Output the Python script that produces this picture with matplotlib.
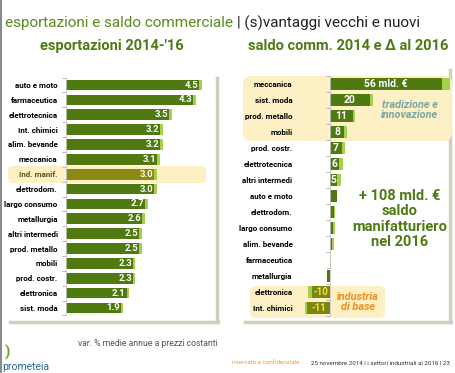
import matplotlib.pyplot as plt
from matplotlib.patches import FancyBboxPatch
from matplotlib.transforms import Affine2D
import numpy as np

W, H = 456, 373

export_sectors = ["auto e moto", "farmaceutica", "elettrotecnica", "Int. chimici",
                  "alim. bevande", "meccanica", "Ind. manif.", "elettrodom.",
                  "largo consumo", "metallurgia", "altri intermedi", "prod. metallo",
                  "mobili", "prod. costr.", "elettronica", "sist. moda"]
export_growth = [4.5, 4.3, 3.5, 3.2, 3.2, 3.1, 3.0, 3.0, 2.7, 2.6, 2.5, 2.5, 2.3, 2.3, 2.1, 1.9]

saldo_sectors = ["meccanica", "sist. moda", "prod. metallo", "mobili", "prod. costr.",
                 "elettrotecnica", "altri intermedi", "auto e moto", "elettrodom.",
                 "largo consumo", "alim. bevande", "farmaceutica", "metallurgia",
                 "elettronica", "Int. chimici"]
saldo_2014 = [56, 20, 11.3, 7.2, 5.8, 4.7, 3.7, 3.3, 2.0, 1.7, 0.8, 0.0, -1.7, -9.0, -11.5]
saldo_2016 = [60, 21.7, 12.5, 8.3, 7.5, 6.3, 5.3, 3.3, 2.7, 2.3, 2.0, 0.3, -1.7, -11.0, -12.5]
saldo_labels = ["56 mld. €", "20", "11", "8", "7", "6", "5", "", "", "", "", "", "", "-10", "-11"]

GREEN = "#4f7a12"
OLIVE = "#8a8a14"
LIGHT = "#a6cf4c"
TITLE_GREEN = "#5a8a1c"
YELLOW = "#fdf0c4"

plt.rcParams["font.family"] = ["Roboto", "DejaVu Sans"]

fig = plt.figure(figsize=(W / 100, H / 100), dpi=100)
px = Affine2D().scale(1 / W, -1 / H).translate(0, 1) + fig.transFigure


def add_ax(x0, x1, y0, y1):
    return fig.add_axes([x0 / W, 1 - y1 / H, (x1 - x0) / W, (y1 - y0) / H])


def rbox(x0, y0, x1, y1, r=6):
    fig.patches.append(FancyBboxPatch((x0, y0), x1 - x0, y1 - y0,
                                      boxstyle=f"round,pad=0,rounding_size={r}",
                                      fc=YELLOW, ec="none", transform=px, zorder=-2))


def line(xs, ys, **kw):
    fig.add_artist(plt.Line2D(xs, ys, transform=px, **kw))


# slide edge + panel frames
line([1, 1], [0, H], color="#8a8a8a", lw=1.5)
line([217, 217], [78, 322], color="#c9d3bb", lw=2.5, zorder=-3)
line([10, 218], [322, 322], color="#c9d3bb", lw=2.5, zorder=-3)
line([450, 450], [70, 322], color="#c9d3bb", lw=2.5, zorder=-3)
line([245, 451], [322, 322], color="#c9d3bb", lw=2.5, zorder=-3)

# highlight boxes
rbox(8, 166, 206, 183, 4)
rbox(243, 76, 452, 141, 8)
rbox(250, 286, 385, 318, 6)

# titles
t1 = fig.text(5 / W, 1 - 23 / H, "esportazioni e saldo commerciale ", color=TITLE_GREEN,
              fontsize=11, va="center", ha="left")
fig.canvas.draw()
x_end = t1.get_window_extent().x1 / fig.bbox.width
fig.text(x_end, 1 - 23 / H, "| (s)vantaggi vecchi e nuovi", color="#222222",
         fontsize=11, va="center", ha="left")
fig.text(112 / W, 1 - 46 / H, "esportazioni 2014-'16", color="#4e7a14",
         fontsize=10.5, fontweight="bold", ha="center", va="center")
fig.text(348 / W, 1 - 46 / H, "saldo comm. 2014 e Δ al 2016", color="#4e7a14",
         fontsize=10.5, fontweight="bold", ha="center", va="center")

# left chart
n = len(export_sectors)
ax = add_ax(66, 216, 85 - 7.4, 308 + 7.4)
ax.set_facecolor("none")
y = np.arange(n)
colors = [OLIVE if s == "Ind. manif." else GREEN for s in export_sectors]
ax.barh(y, export_growth, height=0.72, color=colors)
ax.barh(y, [0.08] * n, left=np.array(export_growth) - 0.08, height=0.72, color=LIGHT)
for yi, v in zip(y, export_growth):
    ax.text(v - 0.12, yi, f"{v:.1f}", color="white", fontsize=6.8, fontweight="bold",
            ha="right", va="center")
ax.set_xlim(0, 150 / 30.2)
ax.set_ylim(n - 0.5, -0.5)
ax.set_yticks(y)
ax.set_yticklabels(export_sectors, fontsize=5.8, fontweight="bold")
ax.tick_params(axis="y", length=0, pad=6)
ax.set_yticks(np.arange(-0.5, n), minor=True)
ax.tick_params(axis="y", which="minor", length=3, color="#b0b0b0", width=0.6)
ax.set_xticks([])
for s in ["top", "right", "bottom"]:
    ax.spines[s].set_visible(False)
ax.spines["left"].set_color("#c8c8c8")
ax.spines["left"].set_linewidth(0.6)
for lab in ax.get_yticklabels():
    if lab.get_text() == "Ind. manif.":
        lab.set_color("#5e5418")

# right chart
m = len(saldo_sectors)
axr = add_ax(300, 452, 84 - 8, 308 + 8)
axr.set_facecolor("none")
yr = np.arange(m)
s14 = np.array(saldo_2014)
s16 = np.array(saldo_2016)
axr.barh(yr, s16, height=0.7, color=LIGHT)
rcol = [GREEN if v > -5 else "#7c8612" for v in s14]
axr.barh(yr, s14, height=0.7, color=rcol)
for yi, v, lab in zip(yr, s14, saldo_labels):
    if lab:
        c = "#f4e23a" if v < 0 else "white"
        axr.text(v / 2, yi, lab, color=c, fontsize=7.5 if v > 0 else 7,
                 fontweight="bold", ha="center", va="center")
axr.set_xlim(-15, 61)
axr.set_ylim(m - 0.5, -0.5)
axr.spines["left"].set_position(("data", 0))
axr.set_yticks(yr)
axr.set_yticklabels(saldo_sectors, fontsize=5.8, fontweight="bold")
axr.tick_params(axis="y", length=0, pad=27)
axr.set_yticks(np.arange(-0.5, m), minor=True)
axr.tick_params(axis="y", which="minor", length=3, color="#b0b0b0", width=0.6)
axr.set_xticks([])
for s in ["top", "right", "bottom"]:
    axr.spines[s].set_visible(False)
axr.spines["left"].set_color("#c8c8c8")
axr.spines["left"].set_linewidth(0.6)

# annotations
fig.text(410 / W, 1 - 110 / H, "tradizione e\ninnovazione", color="#7aa6a6",
         fontsize=7.8, fontweight="bold", fontstyle="italic", ha="center", va="center",
         linespacing=1.0)
fig.text(358 / W, 1 - 302 / H, "industria\ndi base", color="#f0901c",
         fontsize=7.8, fontweight="bold", fontstyle="italic", ha="center", va="center",
         linespacing=1.0)
fig.text(400 / W, 1 - 219 / H, "+ 108 mld. €\nsaldo\nmanifatturiero\nnel 2016",
         color="#4e7a14", fontsize=10.5, fontweight="bold", ha="center", va="center",
         linespacing=1.15)

# footer
fig.text(78 / W, 1 - 343 / H, "var. % medie annue a prezzi costanti", color="#555555",
         fontsize=6.2, ha="left", va="center")
fig.text(2 / W, 1 - 367 / H, "prometeia", color="#2a6a8a", fontsize=7.5,
         ha="left", va="center")
fig.text(5 / W, 1 - 352 / H, ")", color="#6aaa1a", fontsize=11, fontweight="bold",
         ha="left", va="center")
fig.text(450 / W, 1 - 363 / H, "25 novembre 2014 | i settori industriali al 2016 | 23",
         color="#333333", fontsize=4.5, ha="right", va="center")
fig.text(300 / W, 1 - 363 / H, "riservato e confidenziale", color="#f09a30",
         fontsize=4.5, ha="right", va="center")

fig.savefig("out.png", dpi=100)
